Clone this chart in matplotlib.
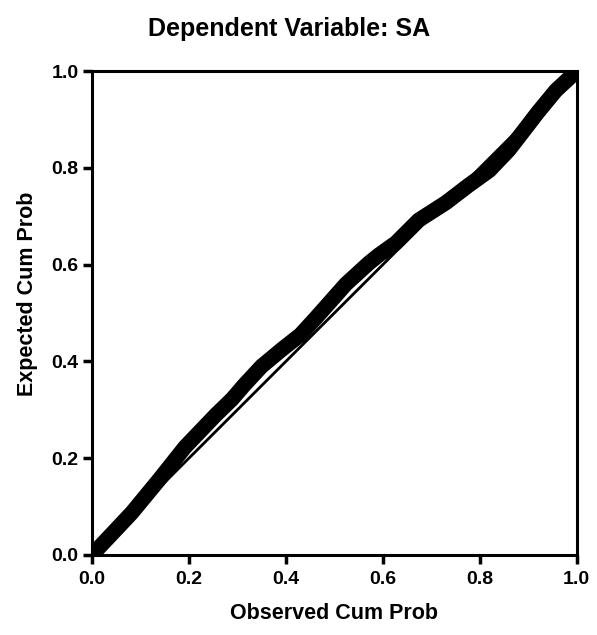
import matplotlib
matplotlib.use("Agg")
import matplotlib.pyplot as plt

# observed vs expected cumulative probability
observed = [0.0, 0.035, 0.082, 0.138, 0.192, 0.256, 0.289, 0.313, 0.35, 0.392,
            0.43, 0.462, 0.524, 0.571, 0.592, 0.627, 0.674, 0.73, 0.777, 0.82,
            0.86, 0.887, 0.92, 0.957, 1.0]
expected = [0.0, 0.037, 0.087, 0.155, 0.223, 0.29, 0.322, 0.35, 0.39, 0.425,
            0.455, 0.49, 0.56, 0.603, 0.62, 0.645, 0.692, 0.728, 0.764, 0.795,
            0.837, 0.872, 0.915, 0.96, 1.0]
diag = [0.0, 1.0]
ticks = [0.0, 0.2, 0.4, 0.6, 0.8, 1.0]
tick_labels = ["0.0", "0.2", "0.4", "0.6", "0.8", "1.0"]

plt.rcParams['font.family'] = ['Liberation Sans', 'DejaVu Sans']
plt.rcParams['font.weight'] = 'bold'

fig = plt.figure(figsize=(5.97, 6.35), dpi=100)
ax = fig.add_axes([0.154, 0.126, 0.812, 0.762])

ax.plot(diag, diag, color='black', lw=2, zorder=2)
ax.plot(observed, expected, color='black', lw=11, solid_capstyle='round',
        solid_joinstyle='round', zorder=3)

ax.set_xlim(0, 1)
ax.set_ylim(0, 1)
ax.set_xticks(ticks)
ax.set_xticklabels(tick_labels)
ax.set_yticks(ticks)
ax.set_yticklabels(tick_labels)
ax.tick_params(direction='out', length=6.5, width=2.5, labelsize=14, pad=3)
ax.tick_params(axis='x', pad=5)
for s in ax.spines.values():
    s.set_linewidth(2.2)

fig.text(0.485, 0.955, "Dependent Variable: SA", ha='center', va='center',
         fontsize=18, fontweight='bold')
ax.set_xlabel("Observed Cum Prob", fontsize=15.5, fontweight='bold', labelpad=11)
fig.text(0.046, 0.537, "Expected Cum Prob", rotation=90, ha='center',
         va='center', fontsize=15.5, fontweight='bold')

fig.savefig("out.png", dpi=100)
